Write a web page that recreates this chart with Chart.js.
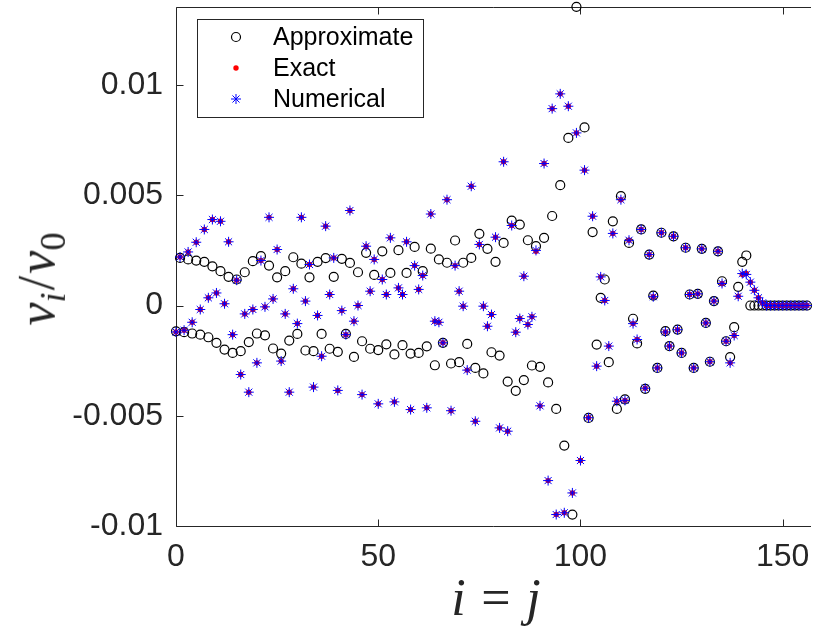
<!DOCTYPE html>
<html>
<head>
<meta charset="utf-8">
<script src="https://cdn.jsdelivr.net/npm/chart.js@4.4.1/dist/chart.umd.min.js"></script>
<style>
  html, body { margin: 0; padding: 0; background: #fff; overflow: hidden; }
  #wrap { position: relative; width: 815px; height: 626px; }
  .axlabel {
    position: absolute;
    font-family: "Liberation Serif", "DejaVu Serif", serif;
    font-style: italic;
    font-size: 52px;
    line-height: 1;
    color: #262626;
    white-space: nowrap;
  }
  .axlabel .up { font-style: normal; }
  .axlabel sub { font-size: 0.7em; vertical-align: -0.3em; }
  .axlabel .eq { font-style: normal; margin: 0 0.3em; }
  #ylab { left: 41px; top: 279px; transform: translate(-50%, -50%) rotate(-90deg); }
  #ylab .sl { margin: 0 0.04em; }
  #xlab { left: 496px; top: 598px; transform: translate(-50%, -50%); }
</style>
</head>
<body>
<div id="wrap">
  <canvas id="chart" width="815" height="626"></canvas>
  <div class="axlabel" id="ylab">v<sub>i</sub><span class="up sl">/</span>v<sub class="up">0</sub></div>
  <div class="axlabel" id="xlab">i<span class="eq">=</span>j</div>
</div>
<script>
// values are in units of 1e-3 (tick labels below show the real numbers)
const approxV = [
  -1.17, 2.16, -1.21, 2.09, -1.27, 2.04, -1.32, 1.98, -1.44, 1.78,
  -1.69, 1.56, -2.0, 1.3, -2.15, 1.18, -2.07, 1.51, -1.66, 2.01,
  -1.27, 2.24, -1.35, 1.81, -1.95, 1.28, -2.18, 1.56, -1.59, 2.19,
  -1.29, 1.9, -2.04, 1.28, -2.07, 1.98, -1.29, 2.15, -1.96, 1.3,
  -2.1, 2.12, -1.29, 1.93, -2.33, 1.51, -1.62, 2.39, -1.96, 1.39,
  -2.02, 2.46, -1.76, 1.48, -2.22, 2.51, -1.8, 1.48, -2.18, 2.66,
  -2.15, 1.56, -1.85, 2.58, -2.71, 2.09, -1.69, 1.94, -2.63, 2.95,
  -2.57, 1.94, -1.74, 2.16, -2.83, 3.25, -3.08, 2.57, -2.12, 1.98,
  -2.27, 2.84, -3.45, 3.85, -3.87, 3.67, -3.38, 2.96, -2.72, 2.69,
  -2.78, 3.07, -3.49, 4.06, -4.69, 5.46, -6.35, 7.6, -9.48, 13.55,
  null, 8.08, -5.1, 3.33, -1.77, 0.35, 1.18, -2.57, 3.82, -4.69,
  4.96, -4.26, 2.84, -0.6, -1.72, 3.45, -3.78, 2.31, 0.45, -2.83,
  3.3, -1.16, -1.84, 3.14, -1.09, -2.15, 2.62, 0.5, -2.83, 0.53,
  2.57, -0.79, -2.55, 0.2, 2.46, 1.1, -1.62, -2.34, -0.98, 0.85,
  1.98, 2.27, 0, 0, 0, 0, 0, 0, 0, 0,
  0, 0, 0, 0, 0, 0, 0
];

const exactV = [
  -1.2, 2.2, -1.12, 2.43, -0.76, 2.87, -0.18, 3.45, 0.35, 3.9,
  0.57, 3.82, 0.08, 2.89, -1.32, 1.15, -3.13, -0.38, -3.93, -0.18,
  -2.6, 2.04, -0.06, 4.0, 0.3, 2.54, -2.52, -0.38, -3.93, 0.76,
  -0.82, 4.0, 0.2, 1.86, -3.7, -0.45, -2.3, 3.6, 0.5, 2.16,
  -3.85, -0.23, -1.32, 4.31, -0.71, 0.0, -4.04, 2.69, 0.65, 2.09,
  -4.46, 1.18, 0.5, 3.07, -4.37, 0.8, 0.5, 2.89, -4.72, 1.81,
  0.73, 1.36, -4.64, 4.15, -0.71, -0.76, -1.69, 4.8, -4.77, 1.81,
  0.65, -0.03, -2.93, 5.41, -5.25, 2.77, -0.03, -0.94, -0.41, 3.1,
  -5.55, 6.52, -5.7, 3.63, -1.21, -0.59, 1.33, -0.86, -0.51, 2.46,
  -4.55, 6.44, -7.94, 8.93, -9.48, 9.6, -9.4, 9.04, -8.5, 7.83,
  -7.03, 6.14, -5.09, 4.05, -2.75, 1.3, 0.23, -1.84, 3.27, -4.34,
  4.8, -4.3, 2.96, -0.82, -1.54, 3.45, -3.75, 2.31, 0.4, -2.83,
  3.3, -1.2, -1.84, 3.14, -1.1, -2.15, 2.62, 0.5, -2.83, 0.53,
  2.57, -0.79, -2.55, 0.2, 2.46, 1.0, -1.62, -2.6, -1.36, 0.42,
  1.41, 1.45, 1.06, 0.69, 0.35, 0.12, 0, 0, 0, 0,
  0, 0, 0, 0, 0, 0, 0
];

const numericalV = [
  -1.2, 2.2, -1.12, 2.43, -0.76, 2.87, -0.18, 3.45, 0.35, 3.9,
  0.57, 3.82, 0.08, 2.89, -1.32, 1.15, -3.13, -0.38, -3.93, -0.18,
  -2.6, 2.04, -0.06, 4.0, 0.3, 2.54, -2.52, -0.38, -3.93, 0.76,
  -0.82, 4.0, 0.2, 1.86, -3.7, -0.45, -2.3, 3.6, 0.5, 2.16,
  -3.85, -0.23, -1.32, 4.31, -0.71, 0.0, -4.04, 2.69, 0.65, 2.09,
  -4.46, 1.18, 0.5, 3.07, -4.37, 0.8, 0.5, 2.89, -4.72, 1.81,
  0.73, 1.36, -4.64, 4.15, -0.71, -0.76, -1.69, 4.8, -4.77, 1.81,
  0.65, -0.03, -2.93, 5.41, -5.25, 2.77, -0.03, -0.94, -0.41, 3.1,
  -5.55, 6.52, -5.7, 3.63, -1.21, -0.59, 1.33, -0.86, -0.51, 2.5,
  -4.55, 6.44, -7.94, 8.93, -9.48, 9.6, -9.4, 9.04, -8.5, 7.83,
  -7.03, 6.14, -5.09, 4.05, -2.75, 1.3, 0.23, -1.84, 3.27, -4.34,
  4.8, -4.3, 2.96, -0.82, -1.54, 3.45, -3.75, 2.31, 0.4, -2.83,
  3.3, -1.2, -1.84, 3.14, -1.1, -2.15, 2.62, 0.5, -2.83, 0.53,
  2.57, -0.79, -2.55, 0.2, 2.46, 1.0, -1.62, -2.6, -1.36, 0.42,
  1.45, 1.41, 1.06, 0.69, 0.35, 0.12, 0, 0, 0, 0,
  0, 0, 0, 0, 0, 0, 0
];

const seriesNames = ["Approximate", "Exact", "Numerical"];
const xTickValues = [0, 50, 100, 150];
const xTickLabels = ["0", "50", "100", "150"];
const yTickValues = [-10, -5, 0, 5, 10];
const yTickLabels = ["-0.01", "-0.005", "0", "0.005", "0.01"];

const AXIS = "#262626";
const TICK_FONT = { family: "'Liberation Sans', Arial, sans-serif", size: 32 };
const toPoints = (arr) => arr.map((v, i) => ({ x: i, y: v }));

// axes box + inward ticks (MATLAB style), drawn under the markers
const frame = {
  id: "frame",
  beforeDatasetsDraw(chart) {
    const { ctx, chartArea: a, scales: { x, y } } = chart;
    const L = Math.round(a.left) + 0.5, T = Math.round(a.top) + 0.5;
    const B = Math.round(a.bottom) + 0.5, R = a.right + 2;
    ctx.save();
    ctx.strokeStyle = AXIS;
    ctx.lineWidth = 1;
    ctx.beginPath();
    ctx.moveTo(L, B); ctx.lineTo(L, T); ctx.lineTo(R, T);
    ctx.moveTo(L, B); ctx.lineTo(R, B);
    for (const v of xTickValues) {
      const px = Math.round(x.getPixelForValue(v)) + 0.5;
      ctx.moveTo(px, B); ctx.lineTo(px, B - 7);
      ctx.moveTo(px, T); ctx.lineTo(px, T + 7);
    }
    for (const v of yTickValues) {
      const py = Math.round(y.getPixelForValue(v)) + 0.5;
      ctx.moveTo(L, py); ctx.lineTo(L + 7, py);
    }
    ctx.stroke();
    ctx.restore();
  },
};

// boxed legend in the top-left corner
const boxLegend = {
  id: "boxLegend",
  afterDatasetsDraw(chart) {
    const { ctx } = chart;
    ctx.save();
    ctx.fillStyle = "#fff";
    ctx.fillRect(197, 19, 226, 98);
    ctx.strokeStyle = AXIS;
    ctx.lineWidth = 1;
    ctx.strokeRect(197.5, 19.5, 226, 98);
    const rows = [37, 68, 99];
    chart.data.datasets.forEach((ds, k) => {
      ctx.save();
      ctx.strokeStyle = ds.borderColor;
      ctx.fillStyle = ds.backgroundColor;
      ctx.lineWidth = ds.borderWidth;
      Chart.helpers.drawPoint(ctx, {
        pointStyle: ds.pointStyle,
        radius: ds.pointRadius,
        rotation: 0,
        borderWidth: ds.borderWidth,
      }, 236, rows[k]);
      ctx.restore();
      ctx.fillStyle = "#000";
      ctx.font = "25px 'Liberation Sans', Arial, sans-serif";
      ctx.textBaseline = "middle";
      ctx.fillText(ds.label, 273, rows[k] + 1);
    });
    ctx.restore();
  },
};

new Chart(document.getElementById("chart"), {
  type: "scatter",
  data: {
    datasets: [
      {
        label: seriesNames[0],
        data: toPoints(approxV),
        pointStyle: "circle",
        pointRadius: 4.5,
        borderWidth: 1.2,
        borderColor: "#000",
        backgroundColor: "rgba(0,0,0,0)",
        order: 3,
        clip: false,
      },
      {
        label: seriesNames[1],
        data: toPoints(exactV),
        pointStyle: "circle",
        pointRadius: 2.7,
        borderWidth: 0,
        borderColor: "#ff0000",
        backgroundColor: "#ff0000",
        order: 2,
        clip: false,
      },
      {
        label: seriesNames[2],
        data: toPoints(numericalV),
        pointStyle: "star",
        pointRadius: 5,
        borderWidth: 1,
        borderColor: "#0000ff",
        backgroundColor: "#0000ff",
        order: 1,
        clip: false,
      },
    ],
  },
  options: {
    responsive: false,
    animation: false,
    events: [],
    layout: { padding: { top: 7, right: 0, bottom: 0, left: 0 } },
    plugins: { legend: { display: false }, tooltip: { enabled: false } },
    scales: {
      x: {
        type: "linear",
        min: 0,
        max: 156.5,
        grid: { display: false, drawTicks: false },
        border: { display: false },
        afterBuildTicks: (s) => { s.ticks = xTickValues.map((v) => ({ value: v })); },
        afterFit: (s) => { s.height = 100; s.paddingLeft = 0; s.paddingRight = 0; },
        ticks: {
          padding: 12,
          maxRotation: 0,
          color: AXIS,
          font: TICK_FONT,
          callback: (v, i) => xTickLabels[i],
        },
      },
      y: {
        type: "linear",
        min: -10,
        max: 13.54,
        grid: { display: false, drawTicks: false },
        border: { display: false },
        afterBuildTicks: (s) => { s.ticks = yTickValues.map((v) => ({ value: v })); },
        afterFit: (s) => { s.width = 176; s.paddingTop = 0; s.paddingBottom = 0; },
        ticks: {
          padding: 13,
          color: AXIS,
          font: TICK_FONT,
          callback: (v, i) => yTickLabels[i],
        },
      },
    },
  },
  plugins: [frame, boxLegend],
});
</script>
</body>
</html>
